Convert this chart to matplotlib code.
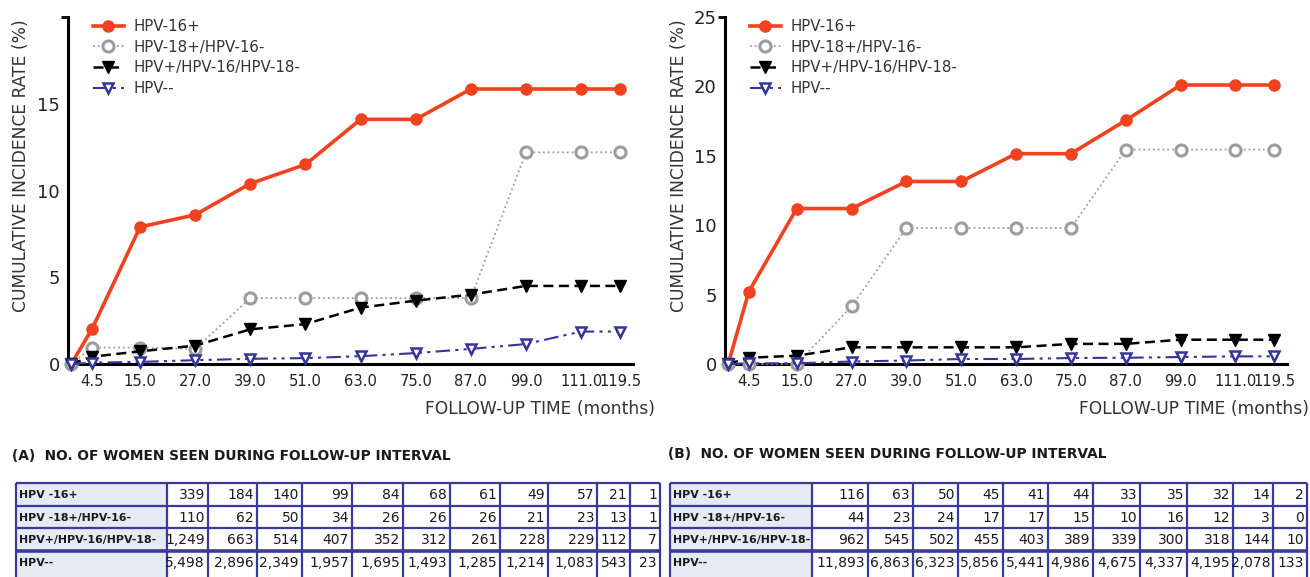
import matplotlib
matplotlib.use("Agg")
import matplotlib.pyplot as plt
from matplotlib.patches import Rectangle

# ---------------- data ----------------
times = [0, 4.5, 15.0, 27.0, 39.0, 51.0, 63.0, 75.0, 87.0, 99.0, 111.0, 119.5]
tick_pos = [4.5, 15.0, 27.0, 39.0, 51.0, 63.0, 75.0, 87.0, 99.0, 111.0, 119.5]
tick_labels = ["4.5", "15.0", "27.0", "39.0", "51.0", "63.0", "75.0", "87.0", "99.0", "111.0", "119.5"]
series_names = ["HPV-16+", "HPV-18+/HPV-16-", "HPV+/HPV-16/HPV-18-", "HPV--"]

A_hpv16 = [0, 2.0, 7.9, 8.6, 10.4, 11.5, 14.1, 14.1, 15.85, 15.85, 15.85, 15.85]
A_hpv18 = [0, 0.95, 0.95, 0.87, 3.8, 3.8, 3.8, 3.8, 3.8, 12.2, 12.2, 12.2]
A_other = [0, 0.42, 0.73, 1.06, 2.0, 2.3, 3.25, 3.65, 4.0, 4.5, 4.5, 4.5]
A_neg = [0, 0.08, 0.12, 0.22, 0.3, 0.34, 0.45, 0.63, 0.87, 1.15, 1.87, 1.87]

B_hpv16 = [0, 5.2, 11.2, 11.2, 13.15, 13.15, 15.15, 15.15, 17.55, 20.1, 20.1, 20.1]
B_hpv18 = [0, 0, 0, 4.15, 9.8, 9.8, 9.8, 9.8, 15.45, 15.45, 15.45, 15.45]
B_other = [0, 0.45, 0.6, 1.2, 1.2, 1.2, 1.2, 1.45, 1.45, 1.75, 1.75, 1.75]
B_neg = [0, 0.05, 0.05, 0.18, 0.25, 0.36, 0.36, 0.43, 0.45, 0.5, 0.55, 0.55]

table_labels = ["HPV -16+", "HPV -18+/HPV-16-", "HPV+/HPV-16/HPV-18-", "HPV--"]
TA_hpv16 = [339, 184, 140, 99, 84, 68, 61, 49, 57, 21, 1]
TA_hpv18 = [110, 62, 50, 34, 26, 26, 26, 21, 23, 13, 1]
TA_other = [1249, 663, 514, 407, 352, 312, 261, 228, 229, 112, 7]
TA_neg = [5498, 2896, 2349, 1957, 1695, 1493, 1285, 1214, 1083, 543, 23]

TB_hpv16 = [116, 63, 50, 45, 41, 44, 33, 35, 32, 14, 2]
TB_hpv18 = [44, 23, 24, 17, 17, 15, 10, 16, 12, 3, 0]
TB_other = [962, 545, 502, 455, 403, 389, 339, 300, 318, 144, 10]
TB_neg = [11893, 6863, 6323, 5856, 5441, 4986, 4675, 4337, 4195, 2078, 133]

title_A = "(A)  NO. OF WOMEN SEEN DURING FOLLOW-UP INTERVAL"
title_B = "(B)  NO. OF WOMEN SEEN DURING FOLLOW-UP INTERVAL"

# ---------------- styles ----------------
RED = "#f2411f"
GRAY = "#9c9c9c"
BLUE = "#35349a"
BORDER = "#3a3a9c"
LABEL_BG = "#e6eaf2"

styles = [
    dict(color=RED, lw=2.6, ls="-", marker="o", ms=8, mfc=RED, mec=RED, mew=1),
    dict(color=GRAY, lw=1.3, ls=":", marker="o", ms=8, mfc="white", mec=GRAY, mew=2.2),
    dict(color="black", lw=1.8, ls=(0, (4, 2.2)), marker="v", ms=8.5, mfc="black", mec="black", mew=1),
    dict(color=BLUE, lw=1.5, ls=(0, (7, 2.5, 1.5, 2.5, 1.5, 2.5)), marker="v", ms=7.5, mfc="white", mec=BLUE, mew=1.8),
]

W, H = 1310, 577
fig = plt.figure(figsize=(W / 100, H / 100), dpi=100)
plt.rcParams["font.family"] = ["DejaVu Sans"]


def fx(px):
    return px / W


def fy(py):
    return 1 - py / H


# overlay axes in pixel coordinates for tables/titles
ov = fig.add_axes([0, 0, 1, 1], zorder=0)
ov.set_xlim(0, W)
ov.set_ylim(H, 0)
ov.axis("off")
ov.patch.set_alpha(0)


def make_chart(rect_px, series, ylim_top, yticks, minor_top, ylab_x):
    l, t, r, b = rect_px
    ax = fig.add_axes([fx(l), fy(b), fx(r - l), (b - t) / H], zorder=2)
    ax.patch.set_alpha(0)
    for ys, st, name in zip(series, styles, series_names):
        ax.plot(times, ys, label=name, clip_on=False, zorder=3, **st)
    ax.set_xlim(-0.7, 122.3)
    ax.set_ylim(0, ylim_top)
    ax.set_xticks(tick_pos)
    ax.set_xticklabels(tick_labels, fontsize=10.6, color="#222222")
    ax.set_yticks(yticks)
    ax.set_yticklabels([str(v) for v in yticks], fontsize=13, color="#222222")
    ax.yaxis.remove_overlapping_locs = False
    ax.set_yticks([minor_top], minor=True)
    ax.tick_params(axis="both", which="major", length=0)
    ax.tick_params(axis="x", pad=7)
    ax.tick_params(axis="y", pad=6)
    ax.tick_params(axis="y", which="minor", length=5, width=2, direction="out")
    for s in ["top", "right"]:
        ax.spines[s].set_visible(False)
    for s in ["left", "bottom"]:
        ax.spines[s].set_linewidth(2.2)
        ax.spines[s].set_color("black")
    ax.set_ylabel("CUMULATIVE INCIDENCE RATE (%)", fontsize=12.3, color="#333333")
    ax.yaxis.set_label_coords((ylab_x - l) / (r - l), (b - 166) / (b - t))
    ax.text(1.039, -0.105, "FOLLOW-UP TIME (months)", transform=ax.transAxes,
            ha="right", va="top", fontsize=12.3, color="#333333")
    leg = ax.legend(loc="upper left", bbox_to_anchor=(0.033, 1.012), frameon=False,
                    fontsize=10.8, handlelength=2.1, handletextpad=0.65,
                    labelspacing=0.38, borderaxespad=0)
    for txt in leg.get_texts():
        txt.set_color("#333333")
    return ax


axA = make_chart((68, 17, 633, 364), [A_hpv16, A_hpv18, A_other, A_neg], 20,
                 [0, 5, 10, 15], 20, 30)
axB = make_chart((725, 17, 1287, 364), [B_hpv16, B_hpv18, B_other, B_neg], 25,
                 [0, 5, 10, 15, 20, 25], 25, 688)


def draw_table(x_edges, y_edges, rows):
    nrows = len(rows)
    for ri in range(nrows):
        ov.add_patch(Rectangle((x_edges[0], y_edges[ri]), x_edges[1] - x_edges[0],
                               y_edges[ri + 1] - y_edges[ri], facecolor=LABEL_BG,
                               edgecolor="none", zorder=1))
    for xe in x_edges:
        ov.plot([xe, xe], [y_edges[0], y_edges[-1]], color=BORDER, lw=1.6, zorder=2,
                solid_capstyle="butt")
    for i, ye in enumerate(y_edges):
        lw = 2.6 if i == 3 else 1.6
        ov.plot([x_edges[0], x_edges[-1]], [ye, ye], color=BORDER, lw=lw, zorder=2,
                solid_capstyle="butt")
    for ri, (lab, vals) in enumerate(rows):
        yc = (y_edges[ri] + y_edges[ri + 1]) / 2 + 1
        if ri == nrows - 1:
            yc = y_edges[ri] + 12.5
        ov.text(x_edges[0] + 3, yc, lab, ha="left", va="center", fontsize=7.9,
                fontweight="bold", color="#1a1a1a", zorder=3)
        for ci, v in enumerate(vals):
            ov.text(x_edges[ci + 2] - 3, yc, f"{v:,}", ha="right", va="center",
                    fontsize=10, color="#1a1a1a", zorder=3)


yedges = [483, 505.5, 528, 550.5, 582]
xA = [16, 167, 208, 257, 302, 352, 403, 450, 500, 548, 597, 630, 660]
xB = [670, 812, 868, 913, 958, 1003, 1048, 1093, 1140, 1187, 1233, 1273, 1307]

draw_table(xA, yedges, list(zip(table_labels, [TA_hpv16, TA_hpv18, TA_other, TA_neg])))
draw_table(xB, yedges, list(zip(table_labels, [TB_hpv16, TB_hpv18, TB_other, TB_neg])))

ov.text(12, 456, title_A, ha="left", va="center", fontsize=9.9, fontweight="bold",
        color="#1a1a1a")
ov.text(668, 454, title_B, ha="left", va="center", fontsize=9.9, fontweight="bold",
        color="#1a1a1a")

fig.savefig("out.png", dpi=100)
